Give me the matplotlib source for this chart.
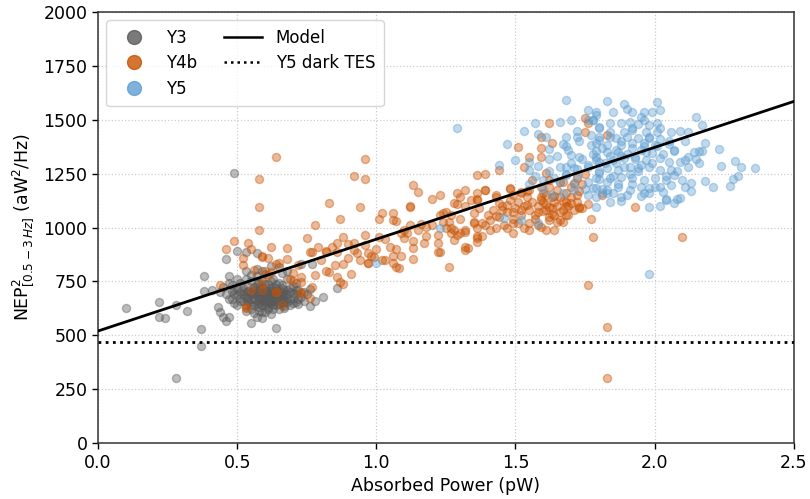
import matplotlib
matplotlib.use("Agg")
import matplotlib.pyplot as plt
from matplotlib.lines import Line2D
import numpy as np

# (absorbed power [pW], NEP^2 [aW^2/Hz]) per detector
y3_points = [
    (0.10, 628), (0.22, 654), (0.22, 586), (0.24, 581), (0.28, 642), (0.32, 614),
    (0.28, 301), (0.37, 529), (0.37, 452), (0.38, 774), (0.38, 704), (0.41, 711),
    (0.43, 631), (0.44, 609), (0.45, 586), (0.46, 568), (0.47, 586), (0.46, 853),
    (0.47, 776), (0.47, 744), (0.49, 1252), (0.50, 890), (0.53, 888), (0.57, 883),
    (0.65, 818), (0.73, 830), (0.77, 830), (0.86, 718), (0.81, 676), (0.76, 636),
    (0.64, 534), (0.55, 555), (0.59, 582), (0.57, 586),
    (0.44, 700), (0.45, 722), (0.46, 690), (0.47, 668), (0.48, 705), (0.48, 735),
    (0.49, 650), (0.49, 690), (0.50, 720), (0.50, 760), (0.50, 640), (0.51, 700),
    (0.51, 675), (0.51, 745), (0.52, 660), (0.52, 720), (0.52, 690), (0.53, 640),
    (0.53, 700), (0.53, 760), (0.53, 615), (0.54, 680), (0.54, 730), (0.54, 655),
    (0.55, 700), (0.55, 620), (0.55, 750), (0.55, 670), (0.56, 690), (0.56, 640),
    (0.56, 725), (0.56, 605), (0.57, 660), (0.57, 700), (0.57, 775), (0.57, 740),
    (0.58, 680), (0.58, 630), (0.58, 715), (0.58, 650), (0.59, 695), (0.59, 665),
    (0.59, 755), (0.59, 610), (0.60, 680), (0.60, 640), (0.60, 720), (0.60, 700),
    (0.60, 785), (0.61, 660), (0.61, 690), (0.61, 620), (0.61, 740), (0.62, 675),
    (0.62, 705), (0.62, 645), (0.62, 600), (0.63, 690), (0.63, 660), (0.63, 725),
    (0.63, 760), (0.64, 680), (0.64, 640), (0.64, 705), (0.65, 665), (0.65, 700),
    (0.65, 620), (0.65, 745), (0.66, 685), (0.66, 650), (0.66, 790), (0.67, 670),
    (0.67, 710), (0.67, 635), (0.68, 690), (0.68, 655), (0.68, 760), (0.69, 700),
    (0.69, 640), (0.70, 675), (0.70, 730), (0.71, 690), (0.71, 655), (0.72, 710),
    (0.72, 645), (0.73, 680), (0.74, 700), (0.74, 660), (0.75, 690), (0.76, 715),
    (0.78, 660), (0.53, 800), (0.57, 810), (0.62, 820), (0.68, 800), (0.55, 780),
    (0.59, 800), (0.58, 670), (0.60, 660), (0.62, 690), (0.64, 720), (0.61, 705),
    (0.59, 720), (0.63, 640), (0.57, 685), (0.66, 700), (0.60, 610), (0.54, 705),
    (0.56, 670), (0.57, 645), (0.58, 700), (0.59, 640), (0.59, 680), (0.60, 655),
    (0.60, 695), (0.61, 675), (0.61, 650), (0.62, 660), (0.62, 720), (0.63, 675),
    (0.63, 705), (0.64, 660), (0.64, 695), (0.65, 685), (0.65, 645), (0.66, 670),
    (0.66, 720), (0.67, 690), (0.67, 655), (0.68, 675), (0.68, 710), (0.69, 665),
    (0.70, 695), (0.70, 650), (0.71, 710), (0.72, 670), (0.55, 690), (0.54, 665),
    (0.53, 680), (0.52, 705), (0.51, 660), (0.50, 685), (0.49, 710), (0.48, 670),
    (0.56, 710), (0.57, 725), (0.58, 745), (0.60, 740), (0.62, 750), (0.64, 740),
    (0.66, 735), (0.61, 630), (0.63, 620), (0.58, 615), (0.55, 640), (0.67, 625),
    (0.69, 720), (0.71, 745),
]

y4b_points = [
    (0.44, 733), (0.53, 633), (0.59, 710), (0.60, 800), (0.61, 780), (0.59, 868),
    (0.61, 860), (0.64, 702), (0.66, 640), (0.64, 830), (0.68, 853), (0.70, 788),
    (0.73, 772), (0.73, 696), (0.77, 722), (0.76, 674), (0.77, 888), (0.80, 849),
    (0.83, 795), (0.85, 826), (0.86, 772), (0.87, 749), (0.88, 740), (0.91, 784),
    (0.94, 849), (0.97, 880), (0.97, 835), (1.02, 849), (1.06, 868), (1.07, 818),
    (0.64, 1326), (0.58, 1224), (0.58, 1095), (0.58, 988), (0.49, 939), (0.46, 899),
    (0.54, 929), (0.55, 899), (0.62, 908), (0.68, 903), (0.75, 950), (0.78, 1011),
    (0.83, 1113), (0.87, 1038), (0.92, 1239), (0.96, 1318), (0.96, 1224), (0.94, 1097),
    (0.76, 888), (0.79, 908), (0.82, 891), (0.84, 911), (0.86, 926), (0.88, 954),
    (0.90, 923), (0.92, 929), (0.92, 896), (0.96, 965), (0.96, 919), (0.59, 865),
    (1.13, 1197), (1.15, 1165), (1.12, 1100), (1.02, 1066), (1.01, 1038), (1.06, 1066),
    (1.06, 1037), (1.07, 1030), (1.12, 1013), (1.10, 988), (1.09, 973), (1.01, 954),
    (1.03, 945), (0.86, 888), (0.97, 834), (0.99, 865), (1.03, 849),
    (1.06, 837), (1.08, 811), (1.09, 868), (1.07, 899), (1.13, 903), (1.13, 852),
    (1.13, 939), (1.17, 927), (1.16, 1016), (1.18, 1001), (1.20, 1131), (1.23, 1151),
    (1.23, 1058), (1.25, 1070), (1.24, 1028), (1.22, 965), (1.22, 929), (1.22, 888),
    (1.26, 818), (1.27, 996), (1.28, 988), (1.29, 965), (1.32, 988), (1.32, 908),
    (1.28, 1112), (1.29, 1110), (1.29, 1162), (1.30, 1143), (1.32, 1174), (1.36, 1244),
    (1.36, 1159), (1.36, 1131), (1.35, 1066), (1.36, 961), (1.11, 977),
    (1.36, 1128), (1.39, 1174), (1.43, 1151), (1.44, 1112), (1.47, 1104), (1.48, 1182),
    (1.49, 1151), (1.52, 1159), (1.54, 1171), (1.35, 1028), (1.24, 1069), (1.26, 1028),
    (1.27, 973), (1.30, 973), (1.32, 981), (1.36, 950), (1.36, 934), (1.33, 903),
    (1.23, 888), (1.38, 1020), (1.41, 1035), (1.43, 1053), (1.47, 996),
    (1.49, 973), (1.51, 1020), (1.53, 996), (1.55, 988), (1.59, 1004), (1.64, 988),
    (1.65, 1028), (1.49, 1074), (1.52, 1081), (1.54, 1104), (1.57, 1058), (1.61, 1081),
    (1.62, 1035), (1.67, 1028), (1.68, 1058), (1.59, 1143), (1.73, 1089), (1.74, 1089),
    (1.77, 1040), (1.78, 957), (1.76, 733),
    (1.62, 1486), (1.63, 1390), (1.59, 1367), (1.51, 1372), (1.75, 1506), (1.76, 1483),
    (1.75, 1445), (1.44, 1267), (1.53, 1283), (1.55, 1329), (1.56, 1220),
    (1.59, 1329), (1.39, 1248), (1.39, 1174), (1.43, 1143), (1.48, 1177),
    (1.52, 1166), (1.55, 1174), (1.59, 1190), (1.61, 1251), (1.62, 1220), (1.66, 1213),
    (1.71, 1205), (1.72, 1151), (1.73, 1097), (1.35, 1020),
    (1.45, 1081), (1.49, 1020), (1.55, 1020), (1.61, 988), (1.83, 1429), (1.81, 1151),
    (1.93, 1097), (2.10, 957), (1.59, 1422), (1.12, 1097),
    (1.32, 896), (1.83, 537),
    (1.83, 302), (0.52, 857), (0.52, 826), (0.56, 803), (0.62, 795),
    (0.65, 834), (0.69, 760), (0.70, 753), (0.73, 749), (0.72, 826),
    (0.73, 702), (0.64, 702), (0.59, 741), (0.55, 710),
    (0.53, 625), (0.82, 888), (1.58, 1011),
    (1.15, 990), (1.18, 960), (1.20, 1010), (1.25, 1000), (1.27, 1060), (1.30, 1040),
    (1.32, 1100), (1.34, 1130), (1.28, 940), (1.10, 950), (1.05, 910), (1.00, 900),
    (0.98, 870), (0.93, 880), (0.90, 860), (0.88, 830), (0.82, 800), (0.78, 780),
    (1.58, 1100), (1.59, 1130), (1.60, 1075), (1.60, 1160), (1.61, 1110), (1.62, 1050),
    (1.62, 1190), (1.63, 1140), (1.63, 1090), (1.64, 1120), (1.64, 1060), (1.65, 1175),
    (1.65, 1100), (1.66, 1140), (1.66, 1035), (1.67, 1080), (1.67, 1210), (1.68, 1120),
    (1.68, 1160), (1.69, 1060), (1.69, 1100), (1.70, 1140), (1.70, 1190), (1.71, 1080),
    (1.72, 1120), (1.72, 1230), (1.73, 1170), (1.74, 1200), (1.75, 1250), (1.76, 1110),
    (1.56, 1120), (1.55, 1080), (1.57, 1040), (1.54, 1140), (1.53, 1100), (1.52, 1060),
    (1.51, 1120), (1.50, 1090), (1.49, 1040), (1.48, 1130), (1.47, 1070), (1.46, 1010),
    (1.45, 1100), (1.44, 1050), (1.43, 1000), (1.42, 1080), (1.41, 990), (1.40, 1060),
    (1.39, 1010), (1.38, 960), (1.37, 1090), (1.36, 1000),
    (1.60, 1120), (1.62, 1095), (1.64, 1145), (1.66, 1070), (1.68, 1100), (1.70, 1115),
    (1.63, 1065), (1.67, 1125), (1.58, 1070), (1.61, 1150),
]

y5_points = [
    (1.83, 1589), (1.89, 1573), (1.90, 1548), (1.85, 1538), (1.79, 1538), (1.92, 1538),
    (1.96, 1538), (1.99, 1538), (2.01, 1584), (2.02, 1545), (1.95, 1515), (1.91, 1491),
    (1.88, 1486), (1.84, 1483), (1.80, 1468), (1.78, 1499), (1.98, 1476), (2.01, 1483),
    (2.15, 1512), (2.17, 1476), (1.84, 1445), (1.89, 1445), (1.92, 1452), (1.97, 1445),
    (2.01, 1445), (2.06, 1441), (2.09, 1449), (2.12, 1441), (1.80, 1422), (1.86, 1414),
    (1.94, 1414), (1.98, 1414), (2.02, 1409), (1.79, 1390), (1.83, 1383), (1.88, 1383),
    (1.92, 1394), (1.96, 1390), (2.00, 1383), (2.05, 1388), (2.18, 1390), (1.79, 1357),
    (1.83, 1352), (1.87, 1352), (1.95, 1360), (1.99, 1348), (2.07, 1357), (2.14, 1352),
    (2.16, 1357), (2.17, 1357), (2.23, 1363), (2.12, 1325), (1.79, 1313), (1.85, 1313),
    (1.89, 1321), (1.93, 1329), (1.97, 1313), (2.02, 1321), (2.05, 1306), (2.09, 1302),
    (2.11, 1313), (2.16, 1298), (2.29, 1308), (2.31, 1279), (2.36, 1274), (2.24, 1285),
    (2.30, 1239), (2.28, 1224), (2.27, 1193), (2.21, 1187), (2.18, 1216), (2.13, 1205),
    (2.11, 1190), (2.07, 1244), (2.06, 1267), (2.02, 1267), (1.98, 1283), (1.94, 1274),
    (1.91, 1283), (1.87, 1267), (1.83, 1274), (1.80, 1251), (1.84, 1228), (1.88, 1236),
    (1.92, 1228), (1.96, 1220), (2.00, 1228), (2.04, 1220), (2.06, 1197), (2.02, 1190),
    (1.98, 1182), (1.95, 1190), (1.91, 1174), (1.87, 1190), (1.83, 1174), (1.79, 1182),
    (1.81, 1159), (1.79, 1143), (1.85, 1159), (1.90, 1151), (1.95, 1146), (1.98, 1159),
    (2.03, 1166), (2.09, 1135), (2.04, 1128), (1.88, 1121), (1.79, 1097), (1.98, 1097),
    (1.68, 1592), (1.76, 1545), (1.79, 1522), (1.78, 1499), (1.57, 1483), (1.66, 1491),
    (1.70, 1499), (1.53, 1449), (1.58, 1434), (1.61, 1422), (1.72, 1422), (1.80, 1406),
    (1.47, 1388), (1.67, 1388), (1.68, 1376), (1.77, 1383), (1.81, 1367), (1.62, 1363),
    (1.50, 1313), (1.55, 1306), (1.58, 1285), (1.62, 1316), (1.70, 1336), (1.73, 1329),
    (1.79, 1329), (1.44, 1290), (1.55, 1267), (1.68, 1283), (1.71, 1274), (1.76, 1283),
    (1.80, 1306), (1.68, 1244), (1.72, 1239), (1.66, 1213), (1.76, 1213), (1.80, 1224),
    (1.78, 1182), (1.76, 1151), (1.83, 1159), (1.71, 1174),
    (1.52, 1035), (1.58, 1020), (1.46, 1043), (1.29, 1460), (1.23, 996),
    (2.04, 1131), (2.08, 1131), (2.07, 1115), (1.98, 784), (1.00, 837),
    (1.55, 1200), (1.57, 1240), (1.60, 1220), (1.62, 1260), (1.64, 1230), (1.66, 1280),
    (1.68, 1250), (1.70, 1300), (1.72, 1270), (1.74, 1320), (1.76, 1290), (1.78, 1340),
    (1.65, 1330), (1.69, 1360), (1.73, 1400), (1.77, 1430), (1.60, 1180), (1.63, 1150),
    (1.67, 1160), (1.71, 1200), (1.75, 1180), (1.79, 1230), (1.80, 1260), (1.82, 1300),
    (1.84, 1330), (1.86, 1360), (1.88, 1400), (1.90, 1420), (1.92, 1460), (1.94, 1480),
    (1.96, 1500), (1.85, 1240), (1.89, 1280), (1.93, 1320), (1.97, 1350), (2.01, 1380),
    (2.05, 1400), (1.87, 1200), (1.91, 1250), (1.95, 1290), (1.99, 1300), (2.03, 1340),
    (2.07, 1360), (2.11, 1400), (1.83, 1210), (1.81, 1180), (1.84, 1120), (1.88, 1140),
    (1.92, 1200), (1.96, 1160), (2.00, 1190), (2.04, 1240), (2.08, 1260), (2.12, 1280),
    (2.15, 1320), (2.10, 1220), (2.13, 1170), (2.02, 1100), (1.94, 1260), (1.86, 1300),
    (1.90, 1340), (1.98, 1420), (2.02, 1460), (1.96, 1380), (1.92, 1370), (1.88, 1330),
    (1.84, 1420), (1.80, 1460), (1.76, 1500), (1.72, 1450), (1.68, 1420),
]

# Linear noise model and dark-detector floor
model_power = [0.0, 2.5]
model_nep = [520, 1585]
dark_tes_nep = 470

series_labels = ["Y3", "Y4b", "Y5"]
series_colors = ["#595959", "#C85200", "#5F9ED1"]

x_ticks = [0.0, 0.5, 1.0, 1.5, 2.0, 2.5]
y_ticks = [0, 250, 500, 750, 1000, 1250, 1500, 1750, 2000]

plt.rcParams["font.family"] = ["DejaVu Sans"]

fig = plt.figure(figsize=(8.1, 4.99), dpi=100)
ax = fig.add_axes([0.121, 0.112, 0.859, 0.864])

for pts, col in zip([y3_points, y4b_points, y5_points], series_colors):
    arr = np.array(pts, dtype=float)
    ax.scatter(arr[:, 0], arr[:, 1], s=34, color=col, alpha=0.4,
               linewidths=1.0, zorder=2)

ax.plot(model_power, model_nep, color="black", lw=2.0, zorder=4)
ax.axhline(dark_tes_nep, color="black", lw=2.0, ls=(0, (1, 1.6)), zorder=4)

ax.set_xlim(0, 2.5)
ax.set_ylim(0, 2000)
ax.set_xticks(x_ticks)
ax.set_yticks(y_ticks)
ax.tick_params(labelsize=12.5, length=4, width=1.0)
ax.grid(True, color="#cccccc", ls=":", lw=0.9, zorder=0)
ax.set_axisbelow(True)
for sp in ax.spines.values():
    sp.set_color("#333333")
    sp.set_linewidth(1.1)

ax.set_xlabel("Absorbed Power (pW)", fontsize=12.5)
ax.set_ylabel(r"NEP$^2_{[0.5-3\,Hz]}$ (aW$^2$/Hz)", fontsize=12.5, labelpad=6)

handles = [Line2D([], [], ls="none", marker="o", ms=10, color=c, alpha=0.8,
                  label=l) for c, l in zip(series_colors, series_labels)]
handles += [Line2D([], [], color="black", lw=1.8, label="Model"),
            Line2D([], [], color="black", lw=1.8, ls=(0, (1, 1.6)),
                   label="Y5 dark TES")]
ax.legend(handles=handles, ncol=2, loc="upper left", fontsize=12,
          framealpha=0.8, edgecolor="#cccccc", borderpad=0.5,
          handlelength=2.3, columnspacing=1.6, labelspacing=0.45)

fig.savefig("out.png", dpi=100)
